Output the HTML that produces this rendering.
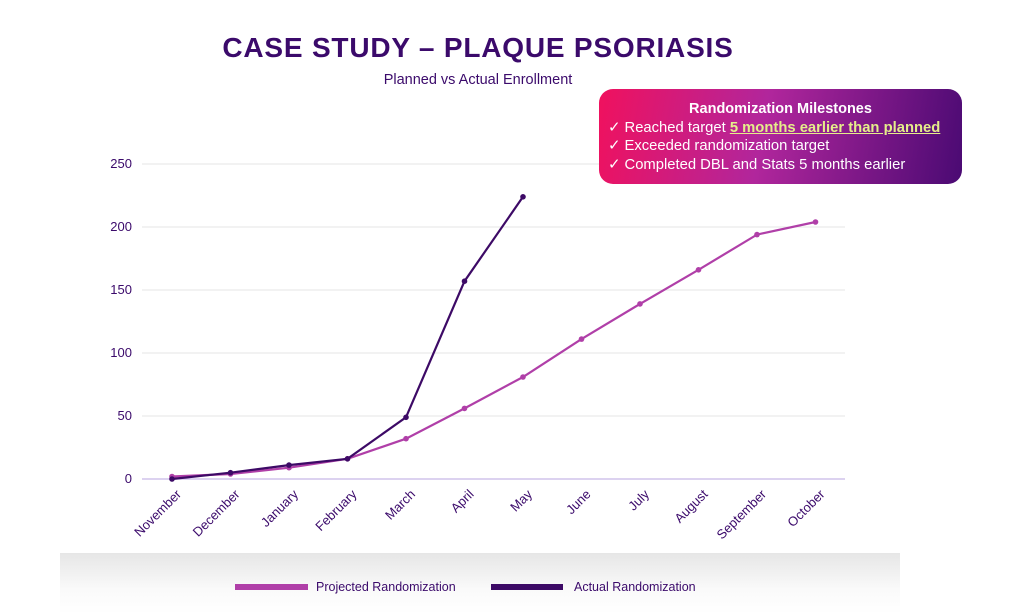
<!DOCTYPE html>
<html><head><meta charset="utf-8"><style>
body{margin:0;width:1024px;height:614px;background:#fff;overflow:hidden;font-family:"Liberation Sans",sans-serif;position:relative}
.box{position:absolute;left:599px;top:89px;width:363px;height:95px;border-radius:14px;background:linear-gradient(100deg,#f0115e 0%,#b1269c 45%,#4a0a73 100%);color:#fff;font-size:14.8px;line-height:18.5px;box-sizing:border-box;padding:11px 0 0 9px}
.box .h{text-align:center;font-weight:bold;font-size:14.5px;padding-right:9px}
.box u{color:#e5ee8a;font-weight:bold;text-decoration-color:#e5ee8a}
.band{position:absolute;left:60px;top:553px;width:840px;height:61px;background:linear-gradient(#e6e6e6,#fafafa 60%,#fff)}
</style></head><body>
<div class="band"></div>
<svg width="1024" height="614" style="position:absolute;left:0;top:0">
<text x="478" y="57" text-anchor="middle" font-size="28" font-weight="bold" fill="#3b0a6b" letter-spacing="0.8">CASE STUDY – PLAQUE PSORIASIS</text>
<text x="478" y="84" text-anchor="middle" font-size="14.5" fill="#3b0a6b">Planned vs Actual Enrollment</text>
<g stroke="#e6e6e6" stroke-width="1">
<line x1="142" x2="845" y1="164" y2="164"/><line x1="142" x2="845" y1="227" y2="227"/><line x1="142" x2="845" y1="290" y2="290"/><line x1="142" x2="845" y1="353" y2="353"/><line x1="142" x2="845" y1="416" y2="416"/>
</g>
<line x1="142" x2="845" y1="479" y2="479" stroke="#c8b8e8" stroke-width="1.2"/>
<g font-size="13" fill="#3b0a6b" text-anchor="end">
<text x="132" y="168">250</text><text x="132" y="231">200</text><text x="132" y="294">150</text><text x="132" y="357">100</text><text x="132" y="420">50</text><text x="132" y="483">0</text>
</g>
<g font-size="13" fill="#3b0a6b" text-anchor="end">
<text transform="translate(182,495) rotate(-45)">November</text>
<text transform="translate(240.5,495) rotate(-45)">December</text>
<text transform="translate(299,495) rotate(-45)">January</text>
<text transform="translate(357.5,495) rotate(-45)">February</text>
<text transform="translate(416,495) rotate(-45)">March</text>
<text transform="translate(474.5,495) rotate(-45)">April</text>
<text transform="translate(533,495) rotate(-45)">May</text>
<text transform="translate(591.5,495) rotate(-45)">June</text>
<text transform="translate(650,495) rotate(-45)">July</text>
<text transform="translate(708.5,495) rotate(-45)">August</text>
<text transform="translate(767,495) rotate(-45)">September</text>
<text transform="translate(825.5,495) rotate(-45)">October</text>
</g>
<polyline fill="none" stroke="#b03fa8" stroke-width="2.2" points="172,476.5 230.5,474 289,467.7 347.5,458.8 406,438.7 464.5,408.4 523,377 581.5,339.1 640,303.9 698.5,269.8 757,234.6 815.5,222"/>
<g fill="#b03fa8"><circle cx="172" cy="476.5" r="2.8"/><circle cx="230.5" cy="474" r="2.8"/><circle cx="289" cy="467.7" r="2.8"/><circle cx="347.5" cy="458.8" r="2.8"/><circle cx="406" cy="438.7" r="2.8"/><circle cx="464.5" cy="408.4" r="2.8"/><circle cx="523" cy="377" r="2.8"/><circle cx="581.5" cy="339.1" r="2.8"/><circle cx="640" cy="303.9" r="2.8"/><circle cx="698.5" cy="269.8" r="2.8"/><circle cx="757" cy="234.6" r="2.8"/><circle cx="815.5" cy="222" r="2.8"/></g>
<polyline fill="none" stroke="#3d0a66" stroke-width="2.2" points="172,479 230.5,472.7 289,465.1 347.5,458.8 406,417.3 464.5,281.2 523,196.8"/>
<g fill="#3d0a66"><circle cx="172" cy="479" r="2.8"/><circle cx="230.5" cy="472.7" r="2.8"/><circle cx="289" cy="465.1" r="2.8"/><circle cx="347.5" cy="458.8" r="2.8"/><circle cx="406" cy="417.3" r="2.8"/><circle cx="464.5" cy="281.2" r="2.8"/><circle cx="523" cy="196.8" r="2.8"/></g>
<rect x="235" y="584" width="73" height="6" fill="#b03fa8"/>
<text x="316" y="591" font-size="12.5" fill="#3b0a6b">Projected Randomization</text>
<rect x="491" y="584" width="72" height="6" fill="#3d0a66"/>
<text x="574" y="591" font-size="12.5" fill="#3b0a6b">Actual Randomization</text>
</svg>
<div class="box"><div class="h">Randomization Milestones</div>
✓ Reached target <u>5 months earlier than planned</u><br>✓ Exceeded randomization target<br>✓ Completed DBL and Stats 5 months earlier</div>
</body></html>
